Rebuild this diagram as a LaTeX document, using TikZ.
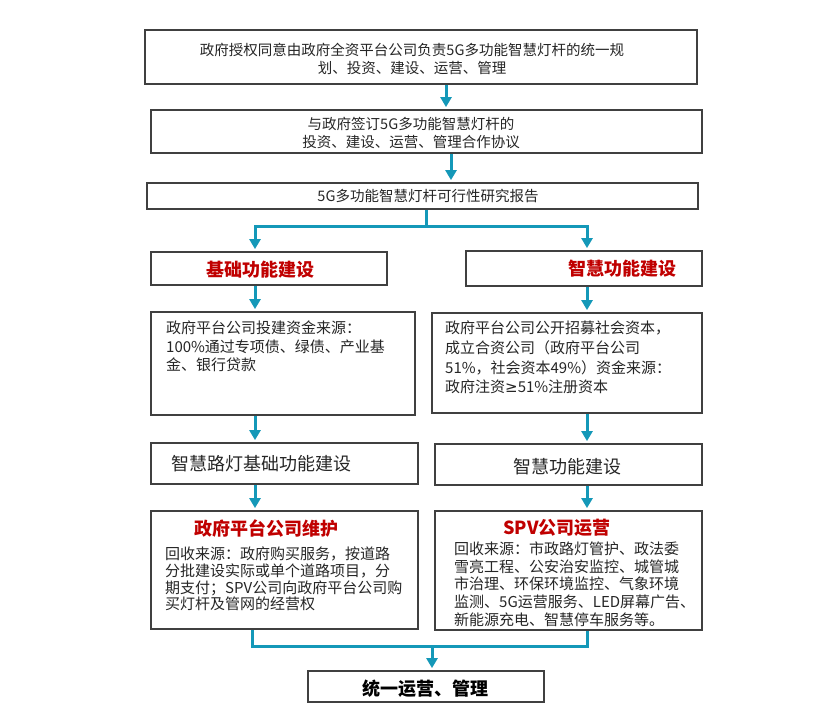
\documentclass[tikz,border=0pt]{standalone}
\usepackage{fontspec}
\setmainfont{Noto Sans CJK SC}
\newfontfamily\symfont{DejaVu Sans}
\usetikzlibrary{arrows.meta}
\definecolor{connc}{RGB}{20,152,184}
\definecolor{edgec}{RGB}{64,64,64}
\definecolor{ttlc}{RGB}{192,0,0}
\begin{document}
\begin{tikzpicture}[x=1pt,y=-1pt,
  bx/.style={draw=edgec,line width=1.8pt,inner sep=0pt,fill=white},
  cline/.style={draw=connc,line width=3pt},
  carr/.style={cline,-{Triangle[width=11pt,length=10pt]},shorten >=2pt},
  txtS/.style={font=\fontsize{14.5}{18}\selectfont,align=center,inner sep=0pt,text=black!85},
  txtB/.style={font=\fontsize{18}{22}\selectfont,inner sep=0pt,text=black!85},
  ttlR/.style={font=\fontsize{18}{22}\selectfont\bfseries,inner sep=0pt,text=ttlc},
  ttlK/.style={font=\fontsize{18}{22}\selectfont\bfseries,inner sep=0pt,text=black},
  body/.style={font=\fontsize{15}{#1}\selectfont,align=left,inner sep=0pt,anchor=west,text=black!85},
]
\useasboundingbox (0,0) rectangle (834,716);
\fill[white] (0,0) rectangle (834,716);

% boxes
\node[bx,minimum width=552pt,minimum height=54pt] (b1) at (421,57) {};
\node[bx,minimum width=551pt,minimum height=43pt] (b2) at (426.5,131.5) {};
\node[bx,minimum width=551pt,minimum height=26pt] (b3) at (422.5,196) {};
\node[bx,minimum width=236pt,minimum height=33pt] (b4) at (269,268.5) {};
\node[bx,minimum width=236pt,minimum height=35pt] (b5) at (584,268.5) {};
\node[bx,minimum width=264pt,minimum height=103pt] (b6) at (283,363.5) {};
\node[bx,minimum width=270pt,minimum height=100pt] (b7) at (567,363) {};
\node[bx,minimum width=267pt,minimum height=41pt] (b8) at (284.5,463.5) {};
\node[bx,minimum width=267pt,minimum height=41pt] (b9) at (568.5,464.5) {};
\node[bx,minimum width=267pt,minimum height=118pt] (b10) at (284.5,570) {};
\node[bx,minimum width=267pt,minimum height=119pt] (b11) at (568.5,570.5) {};
\node[bx,minimum width=236pt,minimum height=31pt] (b12) at (426,686.5) {};

% column coordinates
\coordinate (x1) at (446,0);
\coordinate (x2) at (451,0);
\coordinate (xs) at (426,0);
\coordinate (xl) at (255,0);
\coordinate (xr) at (587,0);
\coordinate (xll) at (252,0);
\coordinate (xm) at (432,0);
\coordinate (ys) at (0,226);
\coordinate (ym) at (0,646);

% connectors
\draw[carr] (b1.south -| x1) -- (b2.north -| x1);
\draw[carr] (b2.south -| x2) -- (b3.north -| x2);
\draw[carr] (b3.south -| xs) -- (xs |- ys) -| (b5.north -| xr);
\draw[carr] (xs |- ys) -| (b4.north -| xl);
\draw[carr] (b4.south -| xl) -- (b6.north -| xl);
\draw[carr] (b5.south -| xr) -- (b7.north -| xr);
\draw[carr] (b6.south -| xl) -- (b8.north -| xl);
\draw[carr] (b7.south -| xr) -- (b9.north -| xr);
\draw[carr] (b8.south -| xl) -- (b10.north -| xl);
\draw[carr] (b9.south -| xr) -- (b11.north -| xr);
\draw[cline] (b10.south -| xll) -- (xll |- ym) -- (xr |- ym) -- (b11.south -| xr);
\draw[carr] (xm |- ym) -- (b12.north -| xm);

% texts
\node[txtS] (t1) at (412,59) {政府授权同意由政府全资平台公司负责5G多功能智慧灯杆的统一规\\划、投资、建设、运营、管理};
\node[txtS] (t2) at (411,133) {与政府签订5G多功能智慧灯杆的\\投资、建设、运营、管理合作协议};
\node[txtS] (t3) at (428,196) {5G多功能智慧灯杆可行性研究报告};
\node[ttlR] (t4) at (260,270) {基础功能建设};
\node[ttlR] (t5) at (622,269) {智慧功能建设};
\node[body=18.5] (t6) at (166,346.5) {政府平台公司投建资金来源：\\100\%通过专项债、绿债、产业基\\金、银行贷款};
\node[body=19.7] (t7) at (445,357.7) {政府平台公司公开招募社会资本，\\成立合资公司（政府平台公司\\51\%，社会资本49\%）资金来源：\\政府注资{\symfont ≥}51\%注册资本};
\node[txtB] (t8) at (261,464) {智慧路灯基础功能建设};
\node[txtB] (t9) at (567,467) {智慧功能建设};
\node[ttlR] (t10a) at (266,529) {政府平台公司维护};
\node[body=16.7] (t10) at (165,579) {回收来源：政府购买服务，按道路\\分批建设实际或单个道路项目，分\\期支付；SPV公司向政府平台公司购\\买灯杆及管网的经营权};
\node[ttlR] (t11a) at (557,528) {SPV公司运营};
\node[body=17.75] (t11) at (454,584) {回收来源：市政路灯管护、政法委\\雪亮工程、公安治安监控、城管城\\市治理、环保环境监控、气象环境\\监测、5G运营服务、LED屏幕广告、\\新能源充电、智慧停车服务等。};
\node[ttlK] (t12) at (425,689) {统一运营、管理};
\end{tikzpicture}
\end{document}
